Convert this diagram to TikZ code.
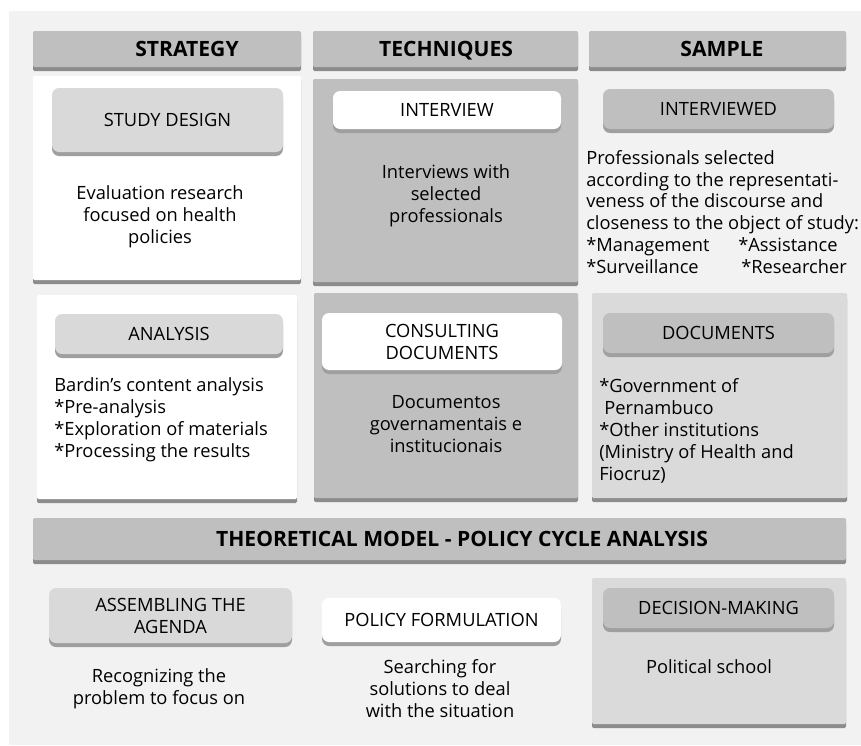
\documentclass[tikz,border=0pt]{standalone}
\usepackage{fontspec}
\setmainfont{Open Sans}
\usetikzlibrary{positioning,shadows}

\definecolor{panelgray}{HTML}{F2F2F2}
\definecolor{bargray}{HTML}{BFBFBF}
\definecolor{lightcell}{HTML}{DADADA}
\definecolor{pillgray}{HTML}{D9D9D9}
\definecolor{stripgray}{HTML}{8C8C8C}
\newcommand\figfont{\fontsize{13}{15.6}\selectfont}
\newcommand\headfont{\fontsize{15}{18}\selectfont\bfseries}

\tikzset{wh/.style 2 args={minimum width=#1*0.025cm, minimum height=#2*0.025cm}}
\tikzset{cellbox/.style={rectangle, rounded corners=1pt, inner sep=0pt, fill=#1, general shadow={shadow yshift=-0.1cm, fill=stripgray}}}
\tikzset{pill/.style={rectangle, rounded corners=5pt, inner sep=2pt, align=center, fill=#1, font=\figfont, general shadow={shadow yshift=-0.1cm, fill=gray!75}}}
\tikzset{hdrtext/.style={inner sep=0pt, text height=1.45ex, text depth=0pt, font=\headfont}}
\tikzset{bodytext/.style={inner sep=0pt, align=center, font=\figfont}}
\tikzset{listtext/.style={inner sep=0pt, align=left, anchor=west, font=\figfont}}

\begin{document}
\begin{tikzpicture}[x=0.025cm, y=-0.025cm]
	\useasboundingbox (0,0) rectangle (861,745);
	\fill[panelgray] (9,11) rectangle (861,745);
	% column headers
	\node[cellbox=bargray, wh={268}{36}] (hstrat) at (167,49) {};
	\node[cellbox=bargray, wh={265}{36}] (htech) at (445.5,49) {};
	\node[cellbox=bargray, wh={257}{36}] (hsample) at (717.5,49) {};
	\node[hdrtext] (lstrat) at (187,51) {STRATEGY};
	\node[hdrtext] (ltech) at (446,51) {TECHNIQUES};
	\node[hdrtext] (lsample) at (722,51) {SAMPLE};
	% first row
	\node[cellbox=white, wh={268}{204}] (design) at (167,178) {};
	\node[cellbox=bargray, wh={265}{203}] (interview) at (445.5,180.5) {};
	\node[pill=pillgray, wh={231}{64}] (pdesign) at (167.5,120) {STUDY DESIGN};
	\node[pill=white, wh={228}{38}] (pinterview) at (447,110) {INTERVIEW};
	\node[pill=bargray, wh={231}{40}] (pinterviewed) at (718.5,109) {INTERVIEWED};
	\node[bodytext] (tdesign) at (160,217) {Evaluation research\\focused on health\\policies};
	\node[bodytext] (tinterview) at (446,196) {Interviews with\\selected\\professionals};
	\node[listtext] (tinterviewed) at (586,212) {Professionals selected\\
		according to the representati-\\
		veness of the discourse and\\
		closeness to the object of study:\\
		\makebox[3.8cm][l]{*Management}*Assistance\\
		\makebox[3.875cm][l]{*Surveillance}*Researcher};
	% second row
	\node[cellbox=white, wh={260}{204}] (analysis) at (167,397) {};
	\node[cellbox=bargray, wh={264}{205}] (consult) at (446,395.5) {};
	\node[cellbox=lightcell, wh={255}{205}] (docs) at (719.5,395.5) {};
	\node[pill=pillgray, wh={228}{40}] (panalysis) at (169,334) {ANALYSIS};
	\node[pill=white, wh={240}{57}] (pconsult) at (442,341.5) {CONSULTING\\DOCUMENTS};
	\node[pill=bargray, wh={231}{40}] (pdocs) at (718.5,333) {DOCUMENTS};
	\node[listtext] (tanalysis) at (54,419.5) {Bardin's content analysis\\
		*Pre-analysis\\
		*Exploration of materials\\
		*Processing the results};
	\node[bodytext] (tconsult) at (446,424) {Documentos\\governamentais e\\institucionais};
	\node[listtext] (tdocs) at (599,431) {*Government of\\
		\hspace{0.125cm}Pernambuco\\
		*Other institutions\\
		(Ministry of Health and\\
		Fiocruz)};
	% policy cycle
	\node[cellbox=bargray, wh={813}{42}] (theory) at (439.5,539) {};
	\node[hdrtext] (ltheory) at (462,541) {THEORETICAL MODEL - POLICY CYCLE ANALYSIS};
	\node[cellbox=lightcell, wh={254}{146}] (decision) at (719,651) {};
	\node[pill=pillgray, wh={243}{55}] (pagenda) at (170.5,615.5) {ASSEMBLING THE\\AGENDA};
	\node[pill=white, wh={239}{44}] (pformul) at (441.5,620) {POLICY FORMULATION};
	\node[pill=bargray, wh={231}{40}] (pdecision) at (718.5,608) {DECISION-MAKING};
	\node[bodytext] (tagenda) at (159,689) {Recognizing the\\problem to focus on};
	\node[bodytext] (tformul) at (440,689) {Searching for\\solutions to deal\\with the situation};
	\node[bodytext] (tdecision) at (709,667) {Political school};
\end{tikzpicture}
\end{document}
